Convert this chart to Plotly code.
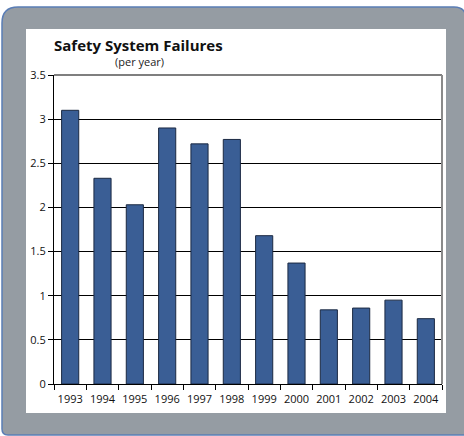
import plotly.graph_objects as go

# data
years = ["1993", "1994", "1995", "1996", "1997", "1998",
         "1999", "2000", "2001", "2002", "2003", "2004"]
failures = [3.10, 2.33, 2.03, 2.90, 2.72, 2.77, 1.68, 1.37, 0.84, 0.86, 0.95, 0.74]

W, H = 464, 436
L, R, T, B = 54, 442, 75, 384   # plot area in pixels


def px(x):
    return (x - L) / (R - L)


def py(y):
    return (B - y) / (B - T)


fig = go.Figure()
fig.add_trace(go.Bar(
    x=years, y=failures,
    marker=dict(color="#3a5e95", line=dict(color="#1b2942", width=1)),
    hoverinfo="x+y",
))

# gray frame with rounded corners (right edge runs just off the canvas)
x0, x1, y0, y1 = 2, 466, 7, 435
frame = (f"M {px(x0)},{py(y0 + 16)} Q {px(x0)},{py(y0)} {px(x0 + 16)},{py(y0)} "
         f"L {px(x1 - 12)},{py(y0)} Q {px(x1)},{py(y0)} {px(x1)},{py(y0 + 12)} "
         f"L {px(x1)},{py(y1)} L {px(x0 + 6)},{py(y1)} "
         f"Q {px(x0)},{py(y1)} {px(x0)},{py(y1 - 6)} Z")

shapes = [
    dict(type="path", path=frame, xref="paper", yref="paper", layer="below",
         fillcolor="#959ca3", line=dict(color="#5a7db5", width=1.5)),
    dict(type="rect", xref="paper", yref="paper", layer="below",
         x0=px(26), x1=px(446), y0=py(413), y1=py(29),
         fillcolor="white", line=dict(width=0)),
    # top border of plot area
    dict(type="line", xref="paper", yref="paper", x0=0, x1=1, y0=1, y1=1,
         line=dict(color="black", width=1.2)),
    # right border of plot area
    dict(type="line", xref="paper", yref="paper", x0=1, x1=1, y0=0, y1=1,
         line=dict(color="#8a8a8a", width=2)),
]

annotations = [
    dict(text="<b>Safety System Failures</b>", xref="paper", yref="paper",
         x=px(52), y=py(45), xanchor="left", yanchor="middle", showarrow=False,
         font=dict(family="Open Sans", size=15, color="#111")),
    dict(text="(per year)", xref="paper", yref="paper",
         x=px(139), y=py(62), xanchor="center", yanchor="middle", showarrow=False,
         font=dict(family="Open Sans", size=11, color="#222")),
]

fig.update_layout(
    width=W, height=H,
    margin=dict(l=L, r=W - R, t=T, b=H - B, autoexpand=False),
    paper_bgcolor="white",
    plot_bgcolor="rgba(0,0,0,0)",
    showlegend=False,
    bargap=0.47,
    shapes=shapes,
    annotations=annotations,
    font=dict(family="Open Sans", size=11, color="#111"),
    xaxis=dict(
        type="category", tickson="boundaries", ticks="outside", ticklen=5,
        tickcolor="black", showline=True, linecolor="black", linewidth=1.2,
        showgrid=False, tickfont=dict(size=11), tickangle=0, automargin=False,
        ticklabelstandoff=5,
    ),
    yaxis=dict(
        range=[0, 3.5], dtick=0.5, ticks="outside", ticklen=5, tickcolor="black",
        showline=True, linecolor="black", linewidth=1.2,
        showgrid=True, gridcolor="black", gridwidth=1, zeroline=False,
        tickfont=dict(size=11), automargin=False,
    ),
)

# page body has an 8px default margin; drop it so the chart sits at 0,0
fig.write_html("out.html", config={"displayModeBar": False},
               post_script="document.body.style.margin='0';")
